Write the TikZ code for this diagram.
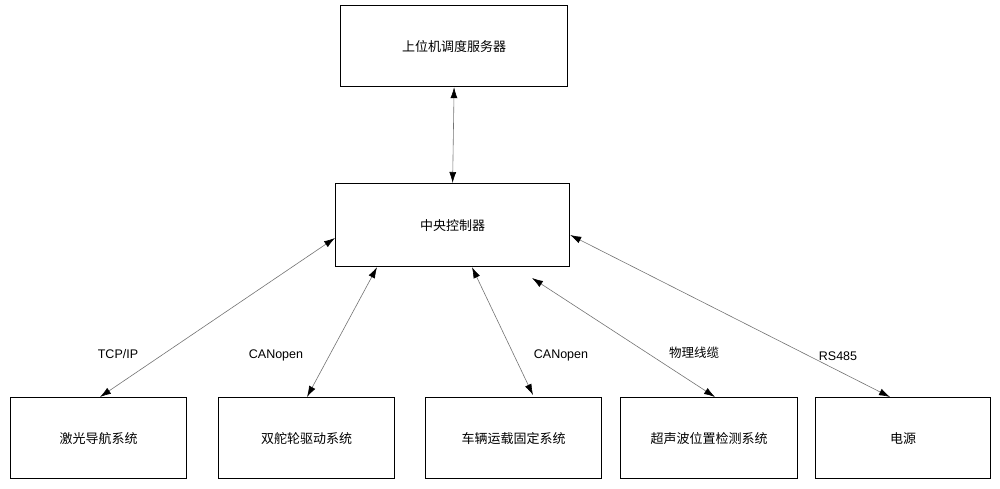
\documentclass[tikz,border=0pt]{standalone}
\usepackage{fontspec}
\setmainfont{Liberation Sans}
\newfontfamily\cjk{Noto Sans CJK SC}
\usetikzlibrary{arrows.meta}
\begin{document}
\begin{tikzpicture}[x=1pt,y=-1pt,
  box/.style={draw,line width=1.2pt,minimum width=#1,minimum height=81pt,font=\cjk\fontsize{13}{15}\selectfont,anchor=north west},
  link/.style={draw=black!55,line width=0.6pt,{Latex[length=11pt,width=7pt,color=black]}-{Latex[length=11pt,width=7pt,color=black]}},
  lab/.style={font=\fontsize{12.5}{14}\selectfont}]
\useasboundingbox (0,0) rectangle (1000,489);
\node[box=227pt] (top) at (340,5) {上位机调度服务器};
\node[box=234pt,minimum height=83pt] (cen) at (335,183) {中央控制器};
\node[box=176pt] (b1) at (10,397) {激光导航系统};
\node[box=176pt] (b2) at (218,397) {双舵轮驱动系统};
\node[box=176pt] (b3) at (425,397) {车辆运载固定系统};
\node[box=177pt] (b4) at (620,397) {超声波位置检测系统};
\node[box=175pt] (b5) at (815,397) {电源};
\coordinate (c4) at (532,278);
\draw[link] (top.south) -- (cen.north);
\draw[link] (cen.west |- 0,238) -- (b1.north -| 100,0);
\draw[link] (cen.south -| 377,0) -- (b2.north -| 307,0);
\draw[link] (cen.south -| 472,0) -- (533,395);
\draw[link] (c4) -- (b4.north -| 715,0);
\draw[link] (cen.east |- 0,235) -- (b5.north -| 890,0);
\node[lab] (l1) at (118,354) {TCP/IP};
\node[lab] (l2) at (276,355) {CANopen};
\node[lab] (l3) at (561,355) {CANopen};
\node[lab,font=\cjk\fontsize{12.5}{14}\selectfont] (l4) at (694,353) {物理线缆};
\node[lab] (l5) at (838,356) {RS485};
\end{tikzpicture}
\end{document}
